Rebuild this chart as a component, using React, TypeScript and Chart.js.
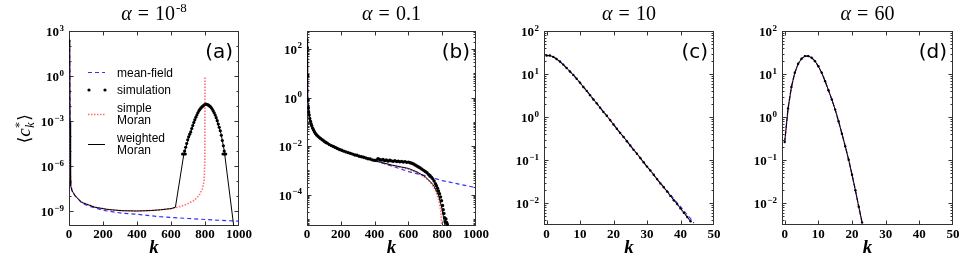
import React, { useEffect, useRef } from 'react';
import { Chart, registerables } from 'chart.js';

Chart.register(...registerables);

// ================= DATA (values are log10 of <c*_k>) =================
// ---- panel (a): alpha = 1e-8 ----
const kWeightedA = [0, 4, 6, 8, 11, 18, 35, 74, 153, 230, 312, 400, 480, 537, 600, 626, 676, 716, 755, 785, 805, 834, 864, 894, 913, 969, 980];
const weightedA = [2.35, 2.0, -3, -6.5, -7.3, -7.65, -7.97, -8.42, -8.75, -8.9, -8.98, -9.0, -8.97, -8.92, -8.84, -8.75, -5.18, -3.73, -2.5, -2.05, -1.88, -2.05, -2.72, -3.84, -4.96, -10.0, -10.6];
const kSimpleA = [0, 4, 6, 8, 11, 18, 35, 74, 153, 230, 312, 400, 480, 537, 600, 626, 660, 696, 735, 765, 785, 795, 799, 800];
const simpleA = [2.35, 2.0, -3, -6.5, -7.3, -7.65, -7.97, -8.42, -8.75, -8.9, -8.98, -9.0, -8.97, -8.92, -8.84, -8.78, -8.68, -8.53, -8.3, -7.97, -7.52, -6.97, -5.6, 0.0];
const kMeanA = [0, 4, 6, 8, 11, 18, 35, 74, 100, 153, 200, 312, 400, 537, 700, 850, 1000];
const meanA = [2.35, 2.0, -3, -6.5, -7.3, -7.65, -7.97, -8.45, -8.6, -8.8, -8.95, -9.15, -9.22, -9.38, -9.5, -9.6, -9.68];
const kSimA = [0, 668, 676, 680, 684, 686, 692, 698, 704, 710, 716, 722, 728, 734, 740, 746, 752, 758, 764, 770, 776, 782, 788, 794, 800, 806, 812, 818, 824, 830, 836, 842, 848, 854, 860, 866, 872, 878, 884, 890, 896, 902, 906, 908, 913, 916, 922];
const simA = [2.35, -5.2, -5.2, -5.0, -5.2, -4.75, -4.5, -4.25, -4.05, -3.88, -3.73, -3.5, -3.3, -3.1, -2.92, -2.75, -2.6, -2.45, -2.32, -2.22, -2.13, -2.06, -2.0, -1.94, -1.9, -1.88, -1.9, -1.93, -1.98, -2.03, -2.1, -2.2, -2.32, -2.45, -2.6, -2.78, -2.98, -3.2, -3.42, -3.65, -3.95, -4.3, -5.2, -4.65, -5.0, -5.2, -5.2];

// ---- panel (b): alpha = 0.1 ----
const kWeightedB = [0, 2, 5, 7, 10, 18, 26, 40, 56, 80, 105, 155, 200, 254, 300, 353, 422, 501, 550, 600, 650, 699, 748, 778, 798, 812, 822];
const weightedB = [2.37, 2.0, 0.03, -0.3, -0.58, -0.93, -1.13, -1.38, -1.54, -1.7, -1.82, -2.03, -2.17, -2.3, -2.4, -2.5, -2.64, -2.78, -2.85, -2.92, -3.06, -3.26, -3.6, -4.02, -4.56, -5.1, -5.5];
const kSimpleB = [0, 2, 5, 7, 10, 18, 26, 40, 56, 80, 105, 155, 200, 254, 300, 353, 422, 501, 550, 600, 650, 699, 730, 760, 780, 792, 798, 801];
const simpleB = [2.37, 2.0, 0.03, -0.3, -0.58, -0.93, -1.13, -1.38, -1.54, -1.7, -1.82, -2.03, -2.17, -2.3, -2.4, -2.5, -2.65, -2.8, -2.87, -2.95, -3.09, -3.3, -3.48, -3.82, -4.22, -4.7, -5.3, -6.5];
const kMeanB = [0, 2, 5, 7, 10, 18, 26, 40, 56, 80, 105, 155, 200, 254, 300, 353, 400, 500, 600, 700, 800, 900, 1000];
const meanB = [2.37, 2.0, 0.03, -0.3, -0.58, -0.93, -1.13, -1.38, -1.54, -1.7, -1.82, -2.03, -2.17, -2.3, -2.4, -2.5, -2.6, -2.82, -3.05, -3.22, -3.42, -3.57, -3.71];
const kSimB = [0, 2, 4, 6, 8, 10, 13, 16, 20, 24, 28, 33, 38, 44, 50, 57, 64, 72, 80, 90, 100, 110, 120, 132, 144, 156, 168, 180, 192, 205, 218, 231, 244, 257, 270, 283, 296, 309, 322, 335, 348, 361, 374, 387, 400, 410, 420, 430, 440, 450, 460, 470, 480, 490, 500, 510, 520, 530, 540, 550, 560, 570, 580, 590, 600, 610, 620, 630, 640, 650, 660, 670, 680, 690, 700, 710, 720, 728, 736, 744, 752, 760, 766, 772, 778, 784, 790, 796, 802, 806, 810, 814, 818, 822, 826, 830];
const simB = [2.37, 2.05, 0.9, -0.1, -0.42, -0.6, -0.72, -0.86, -0.98, -1.08, -1.16, -1.26, -1.33, -1.41, -1.48, -1.54, -1.59, -1.64, -1.69, -1.74, -1.79, -1.84, -1.88, -1.94, -1.98, -2.02, -2.06, -2.1, -2.14, -2.17, -2.21, -2.24, -2.27, -2.3, -2.33, -2.37, -2.38, -2.42, -2.44, -2.46, -2.49, -2.52, -2.53, -2.57, -2.59, -2.58, -2.52, -2.55, -2.58, -2.55, -2.6, -2.57, -2.62, -2.58, -2.61, -2.63, -2.6, -2.64, -2.62, -2.65, -2.63, -2.66, -2.64, -2.67, -2.66, -2.69, -2.71, -2.74, -2.78, -2.82, -2.86, -2.9, -2.95, -3.0, -3.05, -3.1, -3.17, -3.22, -3.28, -3.35, -3.44, -3.55, -3.63, -3.74, -3.85, -3.96, -4.1, -4.25, -4.45, -4.62, -4.78, -4.95, -5.12, -5.0, -5.15, -5.22];

// ---- panel (c): alpha = 10 ----
const kC = [0, 1, 2, 3, 4, 5, 6, 7, 8, 9, 10, 11, 12, 13, 14, 15, 16, 17, 18, 19, 20, 21, 22, 23, 24, 25, 26, 27, 28, 29, 30, 31, 32, 33, 34, 35, 36, 37, 38, 39, 40, 41, 42, 43];
const weightedC = [1.43, 1.43, 1.4, 1.35, 1.29, 1.22, 1.14, 1.06, 0.98, 0.89, 0.8, 0.7, 0.61, 0.51, 0.41, 0.32, 0.22, 0.12, 0.03, -0.07, -0.17, -0.27, -0.37, -0.46, -0.56, -0.66, -0.76, -0.85, -0.95, -1.05, -1.15, -1.24, -1.34, -1.44, -1.54, -1.63, -1.73, -1.83, -1.93, -2.02, -2.12, -2.22, -2.32, -2.42];
const kMeanC = [0, 1, 2, 3, 4, 5, 6, 7, 8, 9, 10, 11, 12, 13, 14, 15, 16, 17, 18, 19, 20, 21, 22, 23, 24, 25, 26, 27, 28, 29, 30, 31, 32, 33, 34, 35, 36, 37, 38, 39, 40, 41, 42, 43, 44];
const meanC = [1.43, 1.43, 1.4, 1.35, 1.29, 1.22, 1.14, 1.06, 0.98, 0.89, 0.8, 0.7, 0.61, 0.51, 0.41, 0.32, 0.22, 0.12, 0.03, -0.07, -0.17, -0.27, -0.37, -0.46, -0.56, -0.66, -0.76, -0.85, -0.95, -1.05, -1.15, -1.24, -1.34, -1.44, -1.53, -1.62, -1.71, -1.8, -1.9, -1.99, -2.08, -2.18, -2.27, -2.36, -2.46];

// ---- panel (d): alpha = 60 ----
const kD = [0, 1, 2, 3, 4, 5, 6, 7, 8, 9, 10, 11, 12, 13, 14, 15, 16, 17, 18, 19, 20, 21, 22, 23];
const weightedD = [-0.58, 0.2, 0.7, 1.03, 1.24, 1.355, 1.417, 1.417, 1.38, 1.3, 1.18, 1.03, 0.835, 0.625, 0.41, 0.175, -0.097, -0.385, -0.68, -0.99, -1.34, -1.7, -2.08, -2.45];

// ---- axes ----
const xTicksAB = [0, 200, 400, 600, 800, 1000];
const xTicksCD = [0, 10, 20, 30, 40, 50];
const yTicksA = [1e3, 1, 1e-3, 1e-6, 1e-9];
const yDecadesA = [1e2, 1e1, 1e-1, 1e-2, 1e-4, 1e-5, 1e-7, 1e-8, 1e-10];
const yTicksB = [1e2, 1, 1e-2, 1e-4];
const yTicksCD = [1e2, 1e1, 1, 1e-1, 1e-2];
const titles = [
  { value: '10', sup: '-8' },
  { value: '0.1', sup: '' },
  { value: '10', sup: '' },
  { value: '60', sup: '' },
];

// ================= helpers =================
const pts = (k: number[], lg: number[]) => k.map((x, i) => ({ x, y: Math.pow(10, lg[i]) }));
const minorsBetween = (e0: number, e1: number, skip: number[]) => {
  const out: number[] = [];
  for (let e = e0; e <= e1; e++) for (let m = 1; m <= 9; m++) {
    const v = m * Math.pow(10, e);
    if (!skip.some((s) => Math.abs(s - v) / v < 1e-9)) out.push(v);
  }
  return out;
};
const expText = (v: number) => String(Math.round(Math.log10(v))).replace('-', '\u2212');

const SIM = { showLine: false, pointRadius: 1.5, pointBackgroundColor: '#000', pointBorderWidth: 0, borderColor: '#000', backgroundColor: '#000' };
const WEIGHTED = { borderColor: '#000', borderWidth: 1, pointRadius: 0, backgroundColor: '#000' };
const MEAN = { borderColor: '#3030ff', borderWidth: 1.2, borderDash: [4, 3], pointRadius: 0 };
const SIMPLE = { borderColor: '#ff7070', borderWidth: 1.6, borderDash: [1.5, 1.5], pointRadius: 0 };

const FONT_SERIF = '"Liberation Serif", "DejaVu Serif", serif';
const H = 265;
const YW = 60;
const RP = 16;

type Spec = {
  id: string; l: number; r: number; t: number; b: number;
  xMin: number; xMax: number; yMin: number; yMax: number;
  xTicks: number[]; yTicks: number[]; yMinor: number[];
  datasets: any[]; title: { value: string; sup: string };
};

const SPECS: Spec[] = [
  {
    id: 'a', l: 69, r: 239, t: 31, b: 226, xMin: 0, xMax: 1000, yMin: 1e-10, yMax: 1e3,
    xTicks: xTicksAB, yTicks: yTicksA, yMinor: yDecadesA, title: titles[0],
    datasets: [
      { ...SIM, data: pts(kSimA, simA), pointRadius: 1.6 },
      { ...WEIGHTED, data: pts(kWeightedA, weightedA) },
      { ...MEAN, data: pts(kMeanA, meanA) },
      { ...SIMPLE, data: pts(kSimpleA, simpleA) },
    ],
  },
  {
    id: 'b', l: 307, r: 476, t: 31, b: 226, xMin: 0, xMax: 1000, yMin: 5.1e-6, yMax: 550,
    xTicks: xTicksAB, yTicks: yTicksB, yMinor: minorsBetween(-6, 2, yTicksB), title: titles[1],
    datasets: [
      { ...SIM, data: pts(kSimB, simB), pointRadius: 1.7 },
      { ...WEIGHTED, data: pts(kWeightedB, weightedB) },
      { ...MEAN, data: pts(kMeanB, meanB) },
      { ...SIMPLE, data: pts(kSimpleB, simpleB) },
    ],
  },
  {
    id: 'c', l: 544, r: 714, t: 31, b: 225, xMin: -0.75, xMax: 50, yMin: 3.12e-3, yMax: 100,
    xTicks: xTicksCD, yTicks: yTicksCD, yMinor: minorsBetween(-3, 1, yTicksCD), title: titles[2],
    datasets: [
      { ...SIM, data: pts(kC, weightedC), pointRadius: 1.2 },
      { ...WEIGHTED, data: pts(kC, weightedC) },
      { ...MEAN, data: pts(kMeanC, meanC) },
      { ...SIMPLE, data: pts(kC, weightedC) },
    ],
  },
  {
    id: 'd', l: 782, r: 953, t: 31, b: 225, xMin: -0.8, xMax: 50, yMin: 3.12e-3, yMax: 100,
    xTicks: xTicksCD, yTicks: yTicksCD, yMinor: minorsBetween(-3, 1, yTicksCD), title: titles[3],
    datasets: [
      { ...SIM, data: pts(kD, weightedD), pointRadius: 1.2 },
      { ...WEIGHTED, data: pts(kD, weightedD) },
      { ...MEAN, data: pts(kD, weightedD) },
      { ...SIMPLE, data: pts(kD, weightedD) },
    ],
  },
];

function drawTitle(ctx: CanvasRenderingContext2D, cx: number, value: string, sup: string) {
  const base = 20;
  ctx.font = `italic 20px ${FONT_SERIF}`;
  const wa = ctx.measureText('α').width;
  ctx.font = `20px ${FONT_SERIF}`;
  const we = ctx.measureText('=').width;
  const wv = ctx.measureText(value).width;
  ctx.font = `13px ${FONT_SERIF}`;
  const ws = sup ? ctx.measureText(sup).width + 1 : 0;
  const gap = 6;
  const total = wa + gap + we + gap + wv + ws;
  let x = cx - total / 2;
  ctx.textAlign = 'left';
  ctx.textBaseline = 'alphabetic';
  ctx.fillStyle = '#000';
  ctx.font = `italic 20px ${FONT_SERIF}`;
  ctx.fillText('α', x, base);
  x += wa + gap;
  ctx.font = `20px ${FONT_SERIF}`;
  ctx.fillText('=', x, base);
  x += we + gap;
  ctx.fillText(value, x, base);
  x += wv + 1;
  if (sup) {
    ctx.font = `13px ${FONT_SERIF}`;
    ctx.fillText(sup, x, base - 8);
  }
}

function drawYLabel(ctx: CanvasRenderingContext2D, px: number, py: number) {
  ctx.save();
  ctx.translate(px, py);
  ctx.rotate(-Math.PI / 2);
  ctx.fillStyle = '#000';
  ctx.textAlign = 'left';
  ctx.textBaseline = 'alphabetic';
  const fBr = '17px "DejaVu Serif", serif';
  const fC = `italic 19px ${FONT_SERIF}`;
  const fS = '11px "DejaVu Serif", serif';
  const fK = `italic 12px ${FONT_SERIF}`;
  ctx.font = fBr; const wl = ctx.measureText('⟨').width;
  ctx.font = fC; const wc = ctx.measureText('c').width;
  ctx.font = fK; const wk = ctx.measureText('k').width;
  ctx.font = fS; const ws = ctx.measureText('*').width;
  const wsub = Math.max(wk, ws) + 1.5;
  const total = wl + wc + wsub + wl;
  let x = -total / 2;
  const base = 5;
  ctx.font = fBr; ctx.fillText('⟨', x, base); x += wl;
  ctx.font = fC; ctx.fillText('c', x, base); x += wc + 0.5;
  ctx.font = fS; ctx.fillText('*', x, base - 7);
  ctx.font = fK; ctx.fillText('k', x, base + 4);
  x += wsub;
  ctx.font = fBr; ctx.fillText('⟩', x, base);
  ctx.restore();
}

function drawLegend(ctx: CanvasRenderingContext2D, off: number) {
  const x0 = 88 - off, x1 = 105 - off, tx = 117 - off;
  ctx.save();
  ctx.lineCap = 'butt';
  ctx.strokeStyle = MEAN.borderColor; ctx.lineWidth = MEAN.borderWidth; ctx.setLineDash(MEAN.borderDash);
  ctx.beginPath(); ctx.moveTo(x0, 72.5); ctx.lineTo(x1, 72.5); ctx.stroke();
  ctx.setLineDash([]);
  ctx.fillStyle = '#000';
  [89, 105].forEach((x) => { ctx.beginPath(); ctx.arc(x - off, 90, 1.6, 0, Math.PI * 2); ctx.fill(); });
  ctx.strokeStyle = SIMPLE.borderColor; ctx.lineWidth = SIMPLE.borderWidth; ctx.setLineDash(SIMPLE.borderDash);
  ctx.beginPath(); ctx.moveTo(x0, 114.5); ctx.lineTo(x1, 114.5); ctx.stroke();
  ctx.setLineDash([]);
  ctx.strokeStyle = '#000'; ctx.lineWidth = 1;
  ctx.beginPath(); ctx.moveTo(x0, 144.5); ctx.lineTo(x1, 144.5); ctx.stroke();
  ctx.font = '12px "Liberation Sans", Arial, sans-serif';
  ctx.textAlign = 'left'; ctx.textBaseline = 'alphabetic';
  ctx.fillStyle = '#000';
  ctx.fillText('mean-field', tx, 76.5);
  ctx.fillText('simulation', tx, 93.5);
  ctx.fillText('simple', tx, 111.5);
  ctx.fillText('Moran', tx, 123.5);
  ctx.fillText('weighted', tx, 141.5);
  ctx.fillText('Moran', tx, 154);
  ctx.restore();
}

function makeDecor(spec: Spec, off: number) {
  return {
    id: 'decor_' + spec.id,
    beforeDatasetsDraw(chart: any) {
      const ctx: CanvasRenderingContext2D = chart.ctx;
      const { left, right, top, bottom } = chart.chartArea;
      const xs = chart.scales.x, ys = chart.scales.y;
      ctx.save();
      ctx.setLineDash([]);
      ctx.strokeStyle = '#333';
      ctx.lineWidth = 1;
      ctx.beginPath();
      const yTick = (v: number, len: number) => {
        const y = Math.round(ys.getPixelForValue(v)) + 0.5;
        if (y < top || y > bottom) return;
        ctx.moveTo(left, y); ctx.lineTo(left + len, y);
        ctx.moveTo(right, y); ctx.lineTo(right - len, y);
      };
      const xTick = (v: number, len: number) => {
        const x = Math.round(xs.getPixelForValue(v)) + 0.5;
        if (x < left || x > right) return;
        ctx.moveTo(x, top); ctx.lineTo(x, top + len);
        ctx.moveTo(x, bottom); ctx.lineTo(x, bottom - len);
      };
      spec.yTicks.forEach((v) => yTick(v, 4.5));
      spec.yMinor.forEach((v) => yTick(v, 2.5));
      spec.xTicks.forEach((v) => xTick(v, 4.5));
      ctx.stroke();
      ctx.strokeRect(left + 0.5, top + 0.5, right - left - 1, bottom - top - 1);
      ctx.restore();
    },
    afterDraw(chart: any) {
      const ctx: CanvasRenderingContext2D = chart.ctx;
      const { left, right, bottom } = chart.chartArea;
      const xs = chart.scales.x, ys = chart.scales.y;
      ctx.save();
      ctx.fillStyle = '#000';
      ctx.textBaseline = 'alphabetic';

      // x tick labels
      ctx.font = `bold 13px ${FONT_SERIF}`;
      ctx.textAlign = 'center';
      spec.xTicks.forEach((v) => {
        ctx.fillText(String(v), xs.getPixelForValue(v), 238);
      });

      // y tick labels: 10 with superscript exponent
      ctx.textAlign = 'left';
      spec.yTicks.forEach((v) => {
        const y = ys.getPixelForValue(v);
        const e = expText(v);
        ctx.font = `bold 13px ${FONT_SERIF}`;
        const w10 = ctx.measureText('10').width;
        ctx.font = `bold 9px ${FONT_SERIF}`;
        const we = ctx.measureText(e).width;
        const x0 = left - 5 - (w10 + we + 0.5);
        ctx.font = `bold 13px ${FONT_SERIF}`;
        ctx.fillText('10', x0, y + 5);
        ctx.font = `bold 9px ${FONT_SERIF}`;
        ctx.fillText(e, x0 + w10 + 0.5, y - 0.5);
      });

      const cx = (left + right) / 2;
      drawTitle(ctx, cx, spec.title.value, spec.title.sup);

      ctx.font = '20px "DejaVu Sans", sans-serif';
      ctx.textAlign = 'right';
      ctx.fillText('(' + spec.id + ')', right - 6, 58);

      ctx.font = `italic bold 19px ${FONT_SERIF}`;
      ctx.textAlign = 'center';
      ctx.fillText('k', cx, 253);

      if (spec.id === 'a') {
        drawYLabel(ctx, 25 - off, 129);
        drawLegend(ctx, off);
      }
      ctx.restore();
    },
  };
}

function Panel({ spec }: { spec: Spec }) {
  const ref = useRef<HTMLCanvasElement>(null);
  const off = spec.l - YW;
  const w = YW + (spec.r - spec.l) + RP;
  useEffect(() => {
    const chart = new Chart(ref.current as HTMLCanvasElement, {
      type: 'line',
      data: { datasets: spec.datasets.map((d) => ({ ...d, tension: 0, clip: 0 })) },
      options: {
        animation: false,
        responsive: false,
        maintainAspectRatio: false,
        events: [],
        layout: { padding: { left: 0, right: RP, top: spec.t, bottom: 0 } },
        plugins: { legend: { display: false }, tooltip: { enabled: false }, title: { display: false } },
        scales: {
          x: {
            type: 'linear',
            min: spec.xMin,
            max: spec.xMax,
            grid: { display: false },
            border: { display: false },
            afterBuildTicks: (s: any) => { s.ticks = spec.xTicks.map((v) => ({ value: v })); },
            afterFit: (s: any) => { s.height = H - spec.b; },
            ticks: { display: false },
          },
          y: {
            type: 'logarithmic',
            min: spec.yMin,
            max: spec.yMax,
            grid: { display: false },
            border: { display: false },
            afterBuildTicks: (s: any) => { s.ticks = spec.yTicks.map((v) => ({ value: v })); },
            afterFit: (s: any) => { s.width = YW; },
            ticks: { display: false },
          },
        },
      } as any,
      plugins: [makeDecor(spec, off)],
    });
    return () => chart.destroy();
  }, []);
  return (
    <canvas
      ref={ref}
      width={w}
      height={H}
      style={{ position: 'absolute', left: off, top: 0, width: w, height: H }}
    />
  );
}

export default function App() {
  return (
    <div style={{ position: 'absolute', left: 0, top: 0, width: 969, height: H, background: '#fff', overflow: 'hidden' }}>
      {SPECS.map((s) => (
        <Panel key={s.id} spec={s} />
      ))}
    </div>
  );
}
